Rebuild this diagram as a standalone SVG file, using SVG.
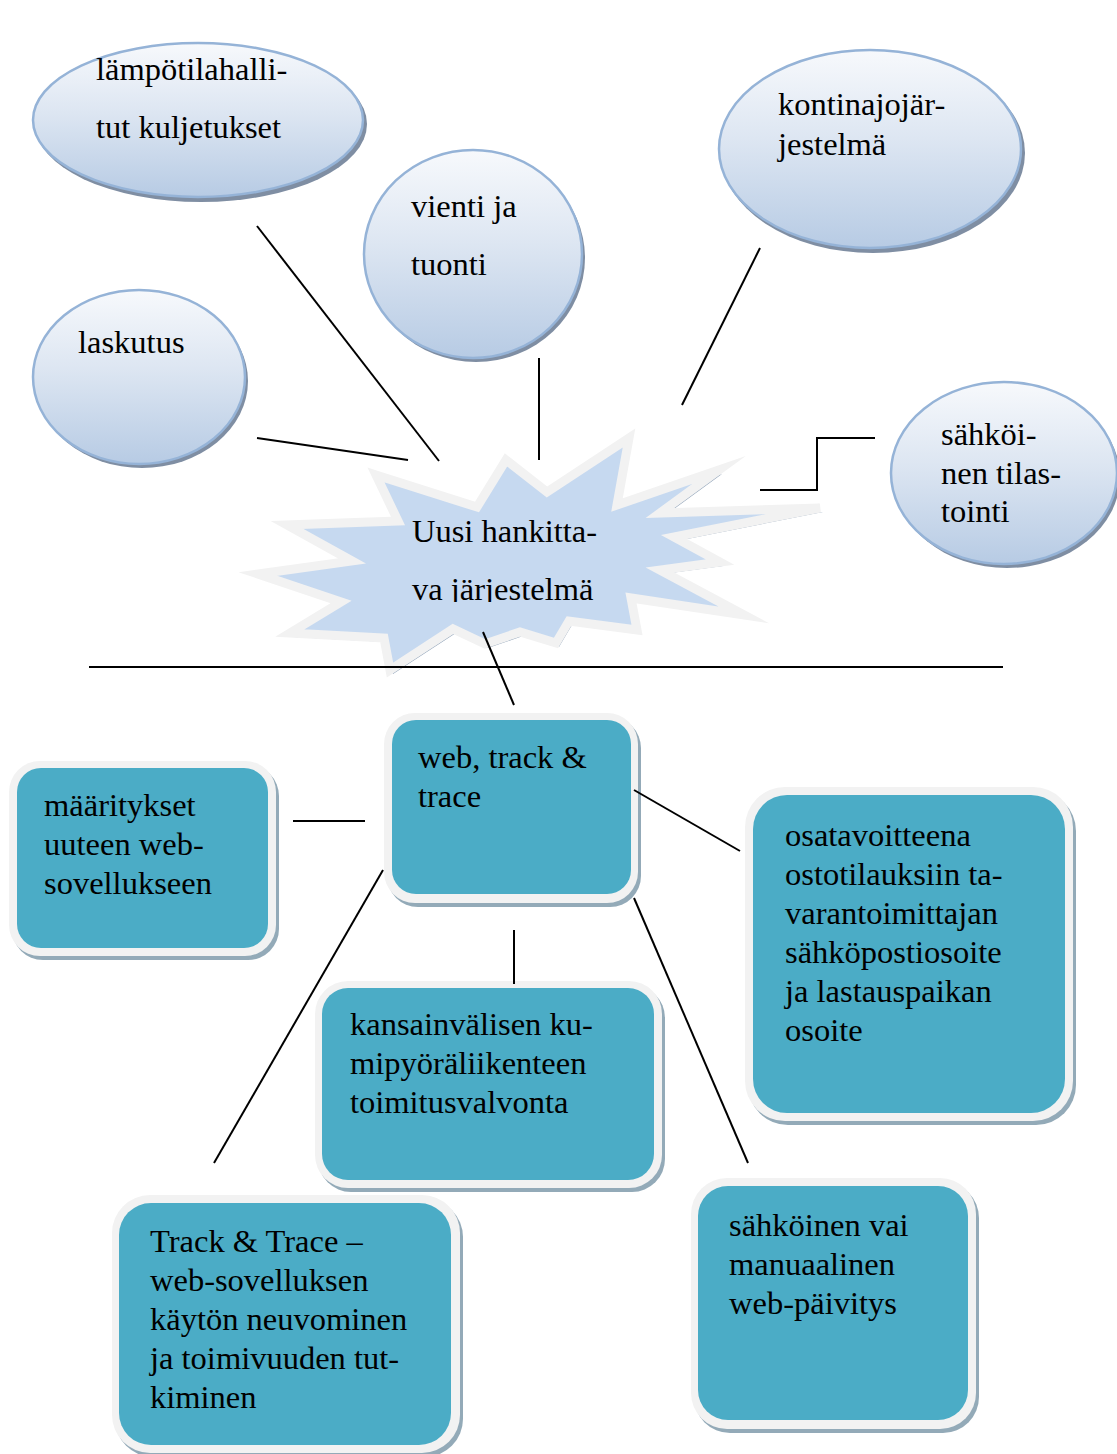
<svg xmlns="http://www.w3.org/2000/svg" width="1117" height="1454" viewBox="0 0 1117 1454">
<defs>
<linearGradient id="eg" x1="0" y1="0" x2="0" y2="1">
<stop offset="0" stop-color="#f7f9fc"/>
<stop offset="0.45" stop-color="#dde6f2"/>
<stop offset="1" stop-color="#b7cbe4"/>
</linearGradient>
<clipPath id="starclip"><rect x="380" y="440" width="300" height="162"/></clipPath>
<style>
text{font-family:"Liberation Serif","Times New Roman",serif;font-size:32.5px;fill:#000}
.esh{fill:#7f8ea3}
.ell{fill:url(#eg);stroke:#95b3d7;stroke-width:2.5}
.bsh{fill:#93aab8}
.bout{fill:#f2f2f2}
.bin{fill:#4bacc6}
.ln{stroke:#000;stroke-width:2;fill:none}
</style>
</defs>

<g id="n-lampotila">
<ellipse class="esh" cx="201" cy="124" rx="166" ry="78"/>
<ellipse class="ell" cx="198" cy="120" rx="165" ry="77"/>
<text x="96" y="80">lämpötilahalli-</text>
<text x="96" y="138">tut kuljetukset</text>
</g>

<g id="n-vienti">
<ellipse class="esh" cx="476" cy="258" rx="109" ry="104"/>
<ellipse class="ell" cx="473" cy="254" rx="109" ry="104"/>
<text x="411" y="217">vienti ja</text>
<text x="411" y="275">tuonti</text>
</g>

<g id="n-kontinajo">
<ellipse class="esh" cx="873" cy="153" rx="152" ry="100"/>
<ellipse class="ell" cx="870" cy="149" rx="151" ry="99"/>
<text x="778" y="115">kontinajojär-</text>
<text x="778" y="155">jestelmä</text>
</g>

<g id="n-laskutus">
<ellipse class="esh" cx="142" cy="381" rx="106" ry="87"/>
<ellipse class="ell" cx="139" cy="377" rx="106" ry="87"/>
<text x="78" y="353">laskutus</text>
</g>

<g id="n-sahkoinen-tilastointi">
<ellipse class="esh" cx="1007" cy="477" rx="113" ry="91"/>
<ellipse class="ell" cx="1004" cy="473" rx="113" ry="91"/>
<text x="941" y="445">sähköi-</text>
<text x="941" y="484">nen tilas-</text>
<text x="941" y="522">tointi</text>
</g>

<g id="n-uusi">
<polygon transform="translate(3,4)" fill="#8fa2b8" points="376,475 477,507 506,460 547,492 629,438 617,505 719,470 660,513 820,508 674,537 720,562 660,570 744,615 631,598 637,630 569,621 556,643 520,632 485,644 453,629 390,670 384,638 290,633 341,602 258,574 352,561 287,525 398,521"/>
<polygon fill="#c6d9f0" stroke="#f2f2f2" stroke-width="9" stroke-linejoin="miter" stroke-miterlimit="10" points="376,475 477,507 506,460 547,492 629,438 617,505 719,470 660,513 820,508 674,537 720,562 660,570 744,615 631,598 637,630 569,621 556,643 520,632 485,644 453,629 390,670 384,638 290,633 341,602 258,574 352,561 287,525 398,521"/>
<text x="412" y="542">Uusi hankitta-</text>
<g clip-path="url(#starclip)"><text x="412" y="600">va järjestelmä</text></g>
</g>

<g id="n-web">
<rect class="bsh" x="387" y="717" width="254" height="190" rx="31"/>
<rect class="bout" x="384" y="713" width="254" height="190" rx="31"/>
<rect class="bin" x="392" y="720" width="239" height="174" rx="24"/>
<text x="418" y="768">web, track &amp;</text>
<text x="418" y="807">trace</text>
</g>

<g id="n-maaritykset">
<rect class="bsh" x="12" y="765" width="267" height="195" rx="31"/>
<rect class="bout" x="9" y="761" width="267" height="195" rx="31"/>
<rect class="bin" x="17" y="768" width="251" height="180" rx="24"/>
<text x="44" y="816">määritykset</text>
<text x="44" y="855">uuteen web-</text>
<text x="44" y="894">sovellukseen</text>
</g>

<g id="n-osatavoitteena">
<rect class="bsh" x="748" y="791" width="328" height="334" rx="40"/>
<rect class="bout" x="745" y="787" width="328" height="334" rx="40"/>
<rect class="bin" x="753" y="795" width="312" height="318" rx="34"/>
<text x="785" y="846">osatavoitteena</text>
<text x="785" y="885">ostotilauksiin ta-</text>
<text x="785" y="924">varantoimittajan</text>
<text x="785" y="963">sähköpostiosoite</text>
<text x="785" y="1002">ja lastauspaikan</text>
<text x="785" y="1041">osoite</text>
</g>

<g id="n-kansainvalisen">
<rect class="bsh" x="318" y="985" width="347" height="207" rx="33"/>
<rect class="bout" x="315" y="981" width="347" height="207" rx="33"/>
<rect class="bin" x="322" y="988" width="332" height="192" rx="26"/>
<text x="350" y="1035">kansainvälisen ku-</text>
<text x="350" y="1074">mipyöräliikenteen</text>
<text x="350" y="1113">toimitusvalvonta</text>
</g>

<g id="n-track">
<rect class="bsh" x="115" y="1199" width="348" height="258" rx="38"/>
<rect class="bout" x="112" y="1195" width="348" height="258" rx="38"/>
<rect class="bin" x="119" y="1203" width="332" height="242" rx="32"/>
<text x="150" y="1252">Track &amp; Trace –</text>
<text x="150" y="1291">web-sovelluksen</text>
<text x="150" y="1330">käytön neuvominen</text>
<text x="150" y="1369">ja toimivuuden tut-</text>
<text x="150" y="1408">kiminen</text>
</g>

<g id="n-sahkoinen-vai">
<rect class="bsh" x="694" y="1182" width="285" height="251" rx="36"/>
<rect class="bout" x="691" y="1178" width="285" height="251" rx="36"/>
<rect class="bin" x="698" y="1186" width="270" height="234" rx="30"/>
<text x="729" y="1236">sähköinen vai</text>
<text x="729" y="1275">manuaalinen</text>
<text x="729" y="1314">web-päivitys</text>
</g>

<g id="connectors">
<line class="ln" x1="257" y1="226" x2="439" y2="461"/>
<line class="ln" x1="539" y1="358" x2="539" y2="460"/>
<line class="ln" x1="760" y1="248" x2="682" y2="405"/>
<line class="ln" x1="257" y1="438" x2="408" y2="460"/>
<polyline class="ln" points="760,490 817,490 817,438 875,438"/>
<line class="ln" x1="89" y1="667" x2="1003" y2="667"/>
<line class="ln" x1="483" y1="632" x2="514" y2="705"/>
<line class="ln" x1="293" y1="821" x2="365" y2="821"/>
<line class="ln" x1="634" y1="790" x2="740" y2="851"/>
<line class="ln" x1="383" y1="870" x2="214" y2="1163"/>
<line class="ln" x1="514" y1="930" x2="514" y2="984"/>
<line class="ln" x1="634" y1="898" x2="748" y2="1163"/>
</g>
</svg>
